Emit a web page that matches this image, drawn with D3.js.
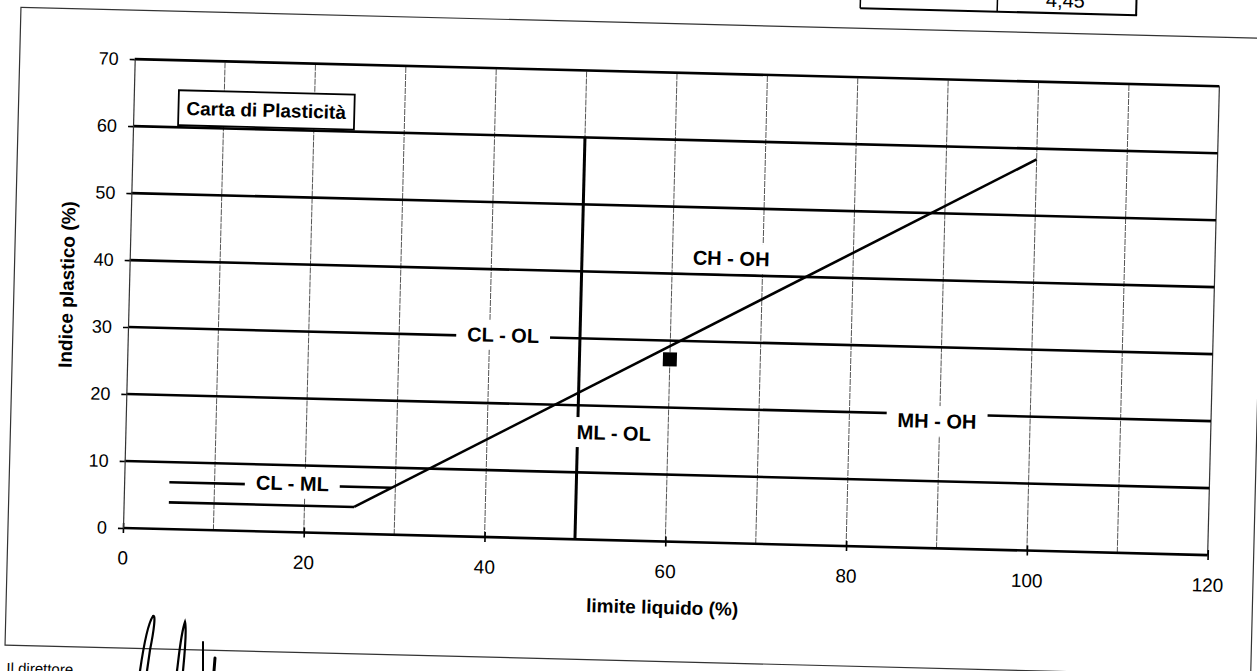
<!DOCTYPE html>
<html>
<head>
<meta charset="utf-8">
<script src="https://cdn.jsdelivr.net/npm/d3@7"></script>
<style>
  html, body { margin: 0; padding: 0; background: #fff; }
  svg { display: block; }
  text { font-family: "Liberation Sans", Arial, sans-serif; fill: #000; }
</style>
</head>
<body>
<svg id="chart" width="1257" height="671"></svg>
<script>
// ---- data ----
const xTickValues = [0, 20, 40, 60, 80, 100, 120];
const yTickValues = [0, 10, 20, 30, 40, 50, 60, 70];
const xGridValues = [10, 20, 30, 40, 50, 60, 70, 80, 90, 100, 110];
const yGridValues = [0, 10, 20, 30, 40, 50, 60, 70];

const aLine      = [[25.5, 4], [100, 58.4]];
const clmlLower  = [[5, 4], [25.5, 4]];
const clmlUpper  = [[5, 7], [29.6, 7]];
const llLine50   = [[50, 0], [50, 60]];
const samplePoints = [[60, 27.2]];

const zoneLabels = [
  { text: "CL - ML", x: 18.6, y: 7.3 },
  { text: "CL - OL", x: 41.5, y: 30.2 },
  { text: "ML - OL", x: 54.0, y: 16.0 },
  { text: "MH - OH", x: 89.7, y: 19.0 },
  { text: "CH - OH", x: 66.5, y: 42.5 }
];
const chartTitle = "Carta di Plasticità";
const xTitle = "limite liquido (%)";
const yTitle = "Indice plastico (%)";
const tableValue = "4,45";
const footerText = "Il direttore";

// ---- layout ----
const svg = d3.select("#chart");
const ox = 123, oy = 528;           // origin in page
const tilt = 1.43;                   // scan rotation (deg)

const x = d3.scaleLinear().domain([0, 120]).range([123, 1208]);
const y = d3.scaleLinear().domain([0, 70]).range([528, 59]);

const page = svg.append("g").attr("transform", `rotate(${tilt},${ox},${oy})`);

// outer chart frame
page.append("rect")
  .attr("x", 8).attr("y", 10).attr("width", 1246).attr("height", 638)
  .attr("fill", "none").attr("stroke", "#333").attr("stroke-width", 1.2);

// fragment of table above
const tbl = page.append("g").attr("stroke", "#000").attr("fill", "none");
tbl.append("line").attr("x1", 847).attr("x2", 1124).attr("y1", -10).attr("y2", -10).attr("stroke-width", 2);
tbl.append("line").attr("x1", 847).attr("x2", 847).attr("y1", -40).attr("y2", -10).attr("stroke-width", 1.5);
tbl.append("line").attr("x1", 984).attr("x2", 984).attr("y1", -40).attr("y2", -10).attr("stroke-width", 1.5);
tbl.append("line").attr("x1", 1123).attr("x2", 1123).attr("y1", -40).attr("y2", -10).attr("stroke-width", 2);
page.append("text").attr("x", 1052).attr("y", -16).attr("text-anchor", "middle")
  .attr("font-size", 20).text(tableValue);

// footer
page.append("text").attr("x", 10).attr("y", 676).attr("font-size", 15).text(footerText);

// vertical gridlines (thin)
page.append("g").selectAll("line").data(xGridValues).join("line")
  .attr("x1", d => x(d)).attr("x2", d => x(d))
  .attr("y1", y(0)).attr("y2", y(70))
  .attr("stroke", "#555").attr("stroke-width", 1).attr("stroke-dasharray", "6,1");

// right border (thin)
page.append("line").attr("x1", x(120)).attr("x2", x(120)).attr("y1", y(0)).attr("y2", y(70))
  .attr("stroke", "#333").attr("stroke-width", 1.2);

// horizontal gridlines (thick)
page.append("g").selectAll("line").data(yGridValues).join("line")
  .attr("x1", x(0)).attr("x2", x(120))
  .attr("y1", d => y(d)).attr("y2", d => y(d))
  .attr("stroke", "#000").attr("stroke-width", 2.6);

// classification lines
const line = d3.line().x(d => x(d[0])).y(d => y(d[1]));
[aLine, clmlLower, clmlUpper].forEach(seg => {
  page.append("path").attr("d", line(seg)).attr("fill", "none")
    .attr("stroke", "#000").attr("stroke-width", 2.6);
});
page.append("path").attr("d", line(llLine50)).attr("fill", "none")
  .attr("stroke", "#000").attr("stroke-width", 3);

// zone labels with white backgrounds
const lg = page.append("g");
zoneLabels.forEach(l => {
  const t = lg.append("text")
    .attr("x", x(l.x)).attr("y", y(l.y))
    .attr("text-anchor", "middle").attr("dominant-baseline", "central")
    .attr("font-size", 20).attr("font-weight", "bold").text(l.text);
  const bb = t.node().getBBox();
  lg.insert("rect", "text")
    .attr("x", bb.x - 11).attr("y", bb.y - 4)
    .attr("width", bb.width + 22).attr("height", bb.height + 8)
    .attr("fill", "#fff");
});

// title box
const tb = page.append("g");
const tt = tb.append("text").attr("x", 176).attr("y", 107)
  .attr("dominant-baseline", "central")
  .attr("font-size", 19).attr("font-weight", "bold").text(chartTitle);
const tbb = tt.node().getBBox();
tb.insert("rect", "text")
  .attr("x", 168).attr("y", 89).attr("width", tbb.width + 16).attr("height", 35)
  .attr("fill", "#fff").attr("stroke", "#000").attr("stroke-width", 1.8);

// sample point
page.append("g").selectAll("rect").data(samplePoints).join("rect")
  .attr("x", d => x(d[0]) - 7).attr("y", d => y(d[1]) - 7)
  .attr("width", 14).attr("height", 14).attr("fill", "#000");

// axes
const xAxisDown = d3.axisBottom(x).tickValues(xTickValues).tickSizeInner(5).tickSizeOuter(0).tickPadding(18);
const xAxisUp = d3.axisBottom(x).tickValues(xTickValues).tickSizeInner(-5).tickSizeOuter(0).tickFormat("");
const gx1 = page.append("g").attr("transform", `translate(0,${y(0)})`).call(xAxisDown);
const gx2 = page.append("g").attr("transform", `translate(0,${y(0)})`).call(xAxisUp);
[gx1, gx2].forEach(g => {
  g.select(".domain").remove();
  g.selectAll(".tick line").attr("stroke", "#000").attr("stroke-width", 1.6);
});
gx1.selectAll(".tick text").attr("font-size", 19).attr("font-family", "Liberation Sans, Arial, sans-serif");

const yAxis = d3.axisLeft(y).tickValues(yTickValues).tickSizeInner(5).tickSizeOuter(0).tickPadding(11);
const gy = page.append("g").attr("transform", `translate(${x(0)},0)`).call(yAxis);
gy.select(".domain").attr("stroke", "#333").attr("stroke-width", 1.2);
gy.selectAll(".tick line").attr("stroke", "#000").attr("stroke-width", 1.6);
gy.selectAll(".tick text").attr("font-size", 18).attr("font-family", "Liberation Sans, Arial, sans-serif");

// axis titles
page.append("text").attr("x", 664).attr("y", 594)
  .attr("text-anchor", "middle").attr("dominant-baseline", "central")
  .attr("font-size", 19).attr("font-weight", "bold").text(xTitle);
page.append("text")
  .attr("transform", "translate(61,286) rotate(-90)")
  .attr("text-anchor", "middle").attr("dominant-baseline", "central")
  .attr("font-size", 19).attr("font-weight", "bold").text(yTitle);

// signature strokes (decoration)
const sig = svg.append("g").attr("fill", "none").attr("stroke", "#000").attr("stroke-linecap", "round");
sig.append("path").attr("d", "M140,671 C143,650 147,625 153,616 C156,614 154,630 150,650 L147,671").attr("stroke-width", 2.2);
sig.append("path").attr("d", "M177,671 C179,655 181,633 185,622 C187,630 185,650 183,671").attr("stroke-width", 2.2);
sig.append("path").attr("d", "M203,671 L203,642").attr("stroke-width", 2);
sig.append("path").attr("d", "M214,671 L215,658").attr("stroke-width", 3);
</script>
</body>
</html>
